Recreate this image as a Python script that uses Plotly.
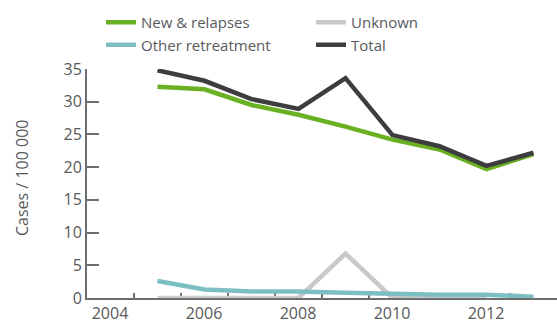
import plotly.graph_objects as go

years = [2005, 2006, 2007, 2008, 2009, 2010, 2011, 2012, 2013]
new_relapses = [32.3, 31.9, 29.5, 28.0, 26.2, 24.2, 22.7, 19.7, 22.0]
unknown = [0, 0, 0, 0, 6.8, 0, 0, 0, None]
other_retreatment = [2.6, 1.3, 1.0, 1.0, 0.8, 0.6, 0.5, 0.5, 0.2]
total = [34.8, 33.2, 30.4, 28.9, 33.6, 24.9, 23.2, 20.2, 22.2]

# tick marks sit between years; labels (every other one) are shifted back onto the year
x_tick_marks = [2004.5, 2005.5, 2006.5, 2007.5, 2008.5, 2009.5, 2010.5, 2011.5, 2012.5]
x_tick_text = ["2004", "", "2006", "", "2008", "", "2010", "", "2012"]
y_tick_vals = [0, 5, 10, 15, 20, 25, 30, 35]

FONT = "Open Sans"
TXT = "#58595b"
AX = "#6d6e70"
FS = 16

W, H = 557, 322
ML, MR, MT, MB = 87, 0, 69, 24
xrange = [2003.5, 2013.5]
plot_w = W - ML - MR
plot_h = H - MT - MB
px_per_year = plot_w / (xrange[1] - xrange[0])

fig = go.Figure()
# drawing order: unknown, teal, green, total (total on top)
series = [
    ("Unknown", unknown, "#c8c9cb", "legend2", 1),
    ("Other retreatment", other_retreatment, "#7bbfc2", "legend", 2),
    ("New & relapses", new_relapses, "#6ab023", "legend", 1),
    ("Total", total, "#3d3d3f", "legend2", 2),
]
for name, vals, col, lg, rank in series:
    fig.add_trace(go.Scatter(
        x=years, y=vals, name=name, mode="lines",
        line=dict(color=col, width=4.5),
        connectgaps=False, legend=lg, legendrank=rank,
    ))

leg_common = dict(
    orientation="v", xref="container", yref="container",
    y=1 - 6 / H, xanchor="left", yanchor="top",
    font=dict(family=FONT, size=15, color=TXT),
    itemwidth=30, tracegroupgap=0, bgcolor="rgba(0,0,0,0)",
    traceorder="normal",
)

fig.update_layout(
    width=W, height=H,
    margin=dict(l=ML, r=MR, t=MT, b=MB, autoexpand=False),
    paper_bgcolor="white", plot_bgcolor="white",
    font=dict(family=FONT, size=FS, color=TXT),
    showlegend=True,
    legend=dict(x=101 / W, **leg_common),
    legend2=dict(x=311 / W, **leg_common),
    xaxis=dict(
        range=xrange,
        tickmode="array", tickvals=x_tick_marks, ticktext=x_tick_text,
        ticklabelshift=-int(round(px_per_year / 2)),
        ticks="inside", ticklen=5, tickwidth=1.5, tickcolor=AX,
        showgrid=False, zeroline=False,
        showline=True, linecolor=AX, linewidth=2,
        layer="below traces",
        tickfont=dict(size=FS, color=TXT),
    ),
    yaxis=dict(
        range=[0, 35],
        tickmode="array", tickvals=y_tick_vals,
        ticks="inside", ticklen=12, tickwidth=2, tickcolor=AX,
        showgrid=False, zeroline=False,
        showline=True, linecolor=AX, linewidth=2,
        layer="below traces",
        tickfont=dict(size=FS, color=TXT),
    ),
    annotations=[dict(
        text="Cases / 100 000", textangle=-90,
        xref="paper", yref="paper",
        x=(22 - ML) / plot_w, y=(H - MB - 178) / plot_h,
        xanchor="center", yanchor="middle",
        showarrow=False, font=dict(family=FONT, size=FS, color=TXT),
    )],
)

fig.write_html("out.html", config={"displayModeBar": False},
               post_script="document.body.style.margin='0px';")
